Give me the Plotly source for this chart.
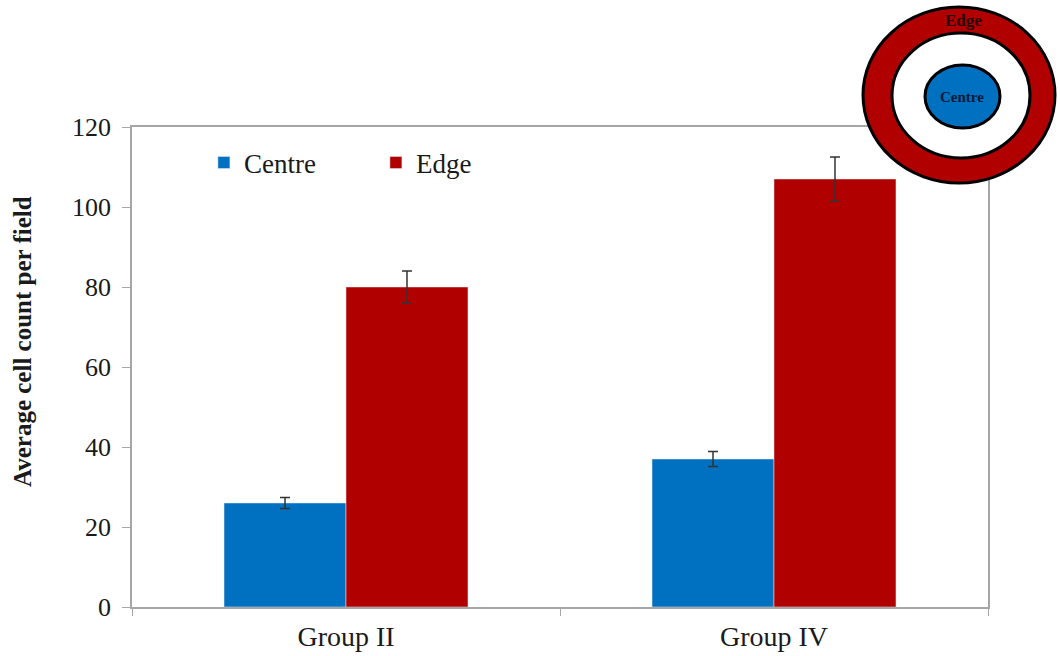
import plotly.graph_objects as go

# Average cell count per field, by region and group
groups = ["Group II", "Group IV"]
centre_values = [26, 37]
centre_errors = [1.4, 1.9]
edge_values = [80, 107]
edge_errors = [4, 5.5]

y_ticks = [0, 20, 40, 60, 80, 100, 120]
y_title = "Average cell count per field"

BLUE = "#0070C0"
RED = "#B00000"
SERIF = "Liberation Serif, Times New Roman, serif"
AXIS_GREY = "#A6A6A6"
TEXT = "#1a1a1a"

fig = go.Figure()
fig.add_trace(go.Bar(
    name="Centre", x=groups, y=centre_values, marker_color=BLUE,
    error_y=dict(type="data", array=centre_errors, color="#333333",
                 thickness=1.5, width=5),
))
fig.add_trace(go.Bar(
    name="Edge", x=groups, y=edge_values, marker_color=RED,
    error_y=dict(type="data", array=edge_errors, color="#333333",
                 thickness=1.5, width=5),
))

# Plot area in pixels: left 132, right 988, top 127, bottom 607
L, R, T, B = 132, 988, 127, 607


def px(xp):
    return (xp - L) / (R - L)


def py(yp):
    return (B - yp) / (B - T)


# Inset diagram of the sampled regions: outer edge ring and central area
shapes = [
    dict(type="circle", xref="paper", yref="paper",
         x0=px(863), x1=px(1055), y0=py(183), y1=py(7),
         fillcolor=RED, line=dict(color="black", width=3), layer="above"),
    dict(type="circle", xref="paper", yref="paper",
         x0=px(892), x1=px(1030), y0=py(158), y1=py(33),
         fillcolor="white", line=dict(color="black", width=3), layer="above"),
    dict(type="circle", xref="paper", yref="paper",
         x0=px(925), x1=px(1000), y0=py(128), y1=py(65),
         fillcolor=BLUE, line=dict(color="black", width=3), layer="above"),
]
annotations = [
    dict(text="<b>Edge</b>", xref="paper", yref="paper", x=px(963), y=py(21),
         xanchor="center", yanchor="middle", showarrow=False,
         font=dict(family=SERIF, size=17, color="#2a0000")),
    dict(text="<b>Centre</b>", xref="paper", yref="paper", x=px(962), y=py(97),
         xanchor="center", yanchor="middle", showarrow=False,
         font=dict(family=SERIF, size=15, color="#0a1a3a")),
    # vertical axis title
    dict(text=f"<b>{y_title}</b>", xref="paper", yref="paper", x=px(22), y=py(342),
         xanchor="center", yanchor="middle", textangle=-90, showarrow=False,
         font=dict(family=SERIF, size=25, color=TEXT)),
]

fig.update_layout(
    width=1060, height=656,
    margin=dict(l=L, r=1060 - R, t=T, b=656 - B),
    paper_bgcolor="white", plot_bgcolor="white",
    barmode="group", bargap=0.43, bargroupgap=0,
    font=dict(family=SERIF, size=26, color=TEXT),
    showlegend=True,
    legend=dict(orientation="h", x=0.084, y=0.925, xanchor="left", yanchor="middle",
                font=dict(family=SERIF, size=27, color=TEXT),
                entrywidth=127, entrywidthmode="pixels",
                bgcolor="rgba(0,0,0,0)", itemclick=False),
    xaxis=dict(showline=True, linecolor=AXIS_GREY, linewidth=1.5, mirror=True,
               ticks="outside", tickson="boundaries", ticklen=7,
               tickcolor=AXIS_GREY, tickfont=dict(family=SERIF, size=28, color=TEXT),
               ticklabelstandoff=4, showgrid=False, automargin=False),
    yaxis=dict(range=[0, 120], tickvals=y_ticks, showline=True,
               linecolor=AXIS_GREY, linewidth=1.5, mirror=True,
               ticks="outside", ticklen=8, tickcolor=AXIS_GREY,
               tickfont=dict(family=SERIF, size=26, color=TEXT), showgrid=False,
               ticklabelstandoff=6, zeroline=False, automargin=False),
    shapes=shapes,
    annotations=annotations,
)

fig.write_html("out.html")
